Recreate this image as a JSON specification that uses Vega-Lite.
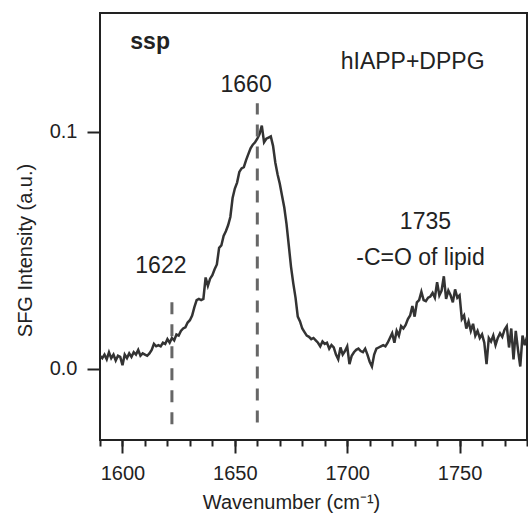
{
  "$schema": "https://vega.github.io/schema/vega-lite/v6.json",
  "autosize": {"type": "none"},
  "padding": {"left": 100, "top": 13, "right": 1, "bottom": 74},
  "width": 427,
  "height": 427,
  "background": "white",
  "config": {
    "view": {"stroke": "#222", "strokeWidth": 2},
    "axis": {
      "labelFont": "Liberation Sans", "labelFontSize": 20, "labelColor": "#222",
      "titleFont": "Liberation Sans", "titleFontSize": 20, "titleColor": "#222", "titleFontWeight": "normal",
      "tickColor": "#222", "tickWidth": 2, "domain": false, "grid": false
    },
    "text": {"font": "Liberation Sans"}
  },
  "datasets": {
    "spec": [
      {"wn":1590,"v":0.0055},{"wn":1591,"v":0.0045},{"wn":1592,"v":0.0060},{"wn":1593,"v":0.0040},{"wn":1594,"v":0.0070},
      {"wn":1595,"v":0.0045},{"wn":1596,"v":0.0060},{"wn":1597,"v":0.0035},{"wn":1598,"v":0.0055},{"wn":1599,"v":0.0050},
      {"wn":1600,"v":0.0015},{"wn":1601,"v":0.0060},{"wn":1602,"v":0.0045},{"wn":1603,"v":0.0065},{"wn":1604,"v":0.0050},
      {"wn":1605,"v":0.0070},{"wn":1606,"v":0.0060},{"wn":1607,"v":0.0080},{"wn":1608,"v":0.0055},{"wn":1609,"v":0.0065},
      {"wn":1610,"v":0.0060},{"wn":1611,"v":0.0055},{"wn":1612,"v":0.0065},{"wn":1613,"v":0.0080},{"wn":1614,"v":0.0105},
      {"wn":1615,"v":0.0095},{"wn":1616,"v":0.0100},{"wn":1617,"v":0.0095},{"wn":1618,"v":0.0110},{"wn":1619,"v":0.0105},
      {"wn":1620,"v":0.0125},{"wn":1621,"v":0.0110},{"wn":1622,"v":0.0130},{"wn":1623,"v":0.0120},{"wn":1624,"v":0.0145},
      {"wn":1625,"v":0.0140},{"wn":1626,"v":0.0160},{"wn":1627,"v":0.0170},{"wn":1628,"v":0.0175},{"wn":1629,"v":0.0195},
      {"wn":1630,"v":0.0205},{"wn":1631,"v":0.0225},{"wn":1632,"v":0.0260},{"wn":1633,"v":0.0290},{"wn":1634,"v":0.0295},
      {"wn":1635,"v":0.0290},{"wn":1636,"v":0.0295},{"wn":1637,"v":0.0385},{"wn":1638,"v":0.0350},{"wn":1639,"v":0.0380},
      {"wn":1640,"v":0.0395},{"wn":1641,"v":0.0420},{"wn":1642,"v":0.0440},{"wn":1643,"v":0.0510},{"wn":1644,"v":0.0520},
      {"wn":1645,"v":0.0560},{"wn":1646,"v":0.0580},{"wn":1647,"v":0.0605},{"wn":1648,"v":0.0640},{"wn":1649,"v":0.0720},
      {"wn":1650,"v":0.0760},{"wn":1651,"v":0.0785},{"wn":1652,"v":0.0830},{"wn":1653,"v":0.0845},{"wn":1654,"v":0.0850},
      {"wn":1655,"v":0.0880},{"wn":1656,"v":0.0905},{"wn":1657,"v":0.0930},{"wn":1658,"v":0.0945},{"wn":1659,"v":0.0955},
      {"wn":1660,"v":0.0970},{"wn":1661,"v":0.0990},{"wn":1662,"v":0.1025},{"wn":1663,"v":0.0955},{"wn":1664,"v":0.0970},
      {"wn":1665,"v":0.0975},{"wn":1666,"v":0.0980},{"wn":1667,"v":0.0940},{"wn":1668,"v":0.0870},{"wn":1669,"v":0.0820},
      {"wn":1670,"v":0.0780},{"wn":1671,"v":0.0730},{"wn":1672,"v":0.0680},{"wn":1673,"v":0.0610},{"wn":1674,"v":0.0520},
      {"wn":1675,"v":0.0430},{"wn":1676,"v":0.0360},{"wn":1677,"v":0.0300},{"wn":1678,"v":0.0220},{"wn":1679,"v":0.0200},
      {"wn":1680,"v":0.0170},{"wn":1681,"v":0.0155},{"wn":1682,"v":0.0140},{"wn":1683,"v":0.0135},{"wn":1684,"v":0.0125},
      {"wn":1685,"v":0.0130},{"wn":1686,"v":0.0120},{"wn":1687,"v":0.0110},{"wn":1688,"v":0.0095},{"wn":1689,"v":0.0115},
      {"wn":1690,"v":0.0105},{"wn":1691,"v":0.0110},{"wn":1692,"v":0.0085},{"wn":1693,"v":0.0100},{"wn":1694,"v":0.0090},
      {"wn":1695,"v":0.0060},{"wn":1696,"v":0.0040},{"wn":1697,"v":0.0090},{"wn":1698,"v":0.0060},{"wn":1699,"v":0.0075},
      {"wn":1700,"v":0.0095},{"wn":1701,"v":0.0020},{"wn":1702,"v":0.0055},{"wn":1703,"v":0.0070},{"wn":1704,"v":0.0080},
      {"wn":1705,"v":0.0085},{"wn":1706,"v":0.0075},{"wn":1707,"v":0.0070},{"wn":1708,"v":0.0085},{"wn":1709,"v":0.0060},
      {"wn":1710,"v":0.0030},{"wn":1711,"v":0.0010},{"wn":1712,"v":0.0060},{"wn":1713,"v":0.0085},{"wn":1714,"v":0.0090},
      {"wn":1715,"v":0.0095},{"wn":1716,"v":0.0100},{"wn":1717,"v":0.0095},{"wn":1718,"v":0.0110},{"wn":1719,"v":0.0130},
      {"wn":1720,"v":0.0150},{"wn":1721,"v":0.0110},{"wn":1722,"v":0.0160},{"wn":1723,"v":0.0140},{"wn":1724,"v":0.0180},
      {"wn":1725,"v":0.0170},{"wn":1726,"v":0.0185},{"wn":1727,"v":0.0210},{"wn":1728,"v":0.0225},{"wn":1729,"v":0.0265},
      {"wn":1730,"v":0.0220},{"wn":1731,"v":0.0280},{"wn":1732,"v":0.0290},{"wn":1733,"v":0.0325},{"wn":1734,"v":0.0290},
      {"wn":1735,"v":0.0285},{"wn":1736,"v":0.0300},{"wn":1737,"v":0.0305},{"wn":1738,"v":0.0320},{"wn":1739,"v":0.0300},
      {"wn":1740,"v":0.0365},{"wn":1741,"v":0.0310},{"wn":1742,"v":0.0330},{"wn":1743,"v":0.0390},{"wn":1744,"v":0.0295},
      {"wn":1745,"v":0.0330},{"wn":1746,"v":0.0310},{"wn":1747,"v":0.0280},{"wn":1748,"v":0.0335},{"wn":1749,"v":0.0300},
      {"wn":1750,"v":0.0310},{"wn":1751,"v":0.0210},{"wn":1752,"v":0.0225},{"wn":1753,"v":0.0170},{"wn":1754,"v":0.0200},
      {"wn":1755,"v":0.0160},{"wn":1756,"v":0.0190},{"wn":1757,"v":0.0140},{"wn":1758,"v":0.0160},{"wn":1759,"v":0.0130},
      {"wn":1760,"v":0.0145},{"wn":1761,"v":0.0110},{"wn":1762,"v":0.0020},{"wn":1763,"v":0.0130},{"wn":1764,"v":0.0115},
      {"wn":1765,"v":0.0140},{"wn":1766,"v":0.0100},{"wn":1767,"v":0.0130},{"wn":1768,"v":0.0150},{"wn":1769,"v":0.0135},
      {"wn":1770,"v":0.0165},{"wn":1771,"v":0.0180},{"wn":1772,"v":0.0090},{"wn":1773,"v":0.0170},{"wn":1774,"v":0.0040},
      {"wn":1775,"v":0.0160},{"wn":1776,"v":0.0080},{"wn":1777,"v":0.0010},{"wn":1778,"v":0.0140},{"wn":1779,"v":0.0100},
      {"wn":1780,"v":0.0135}
    ],
    "dashes": [
      {"wn": 1622, "y1": -0.0234, "y2": 0.0317},
      {"wn": 1660, "y1": -0.0226, "y2": 0.112}
    ],
    "labels": [
      {"wn": 1729.1, "v": 0.1264, "t": "hIAPP+DPPG"},
      {"wn": 1655.0, "v": 0.1166, "t": "1660"},
      {"wn": 1734.8, "v": 0.0589, "t": "1735"},
      {"wn": 1732.6, "v": 0.0436, "t": "-C=O of lipid"},
      {"wn": 1617.1, "v": 0.0404, "t": "1622"}
    ],
    "bold": [
      {"wn": 1612.3, "v": 0.1348, "t": "ssp"}
    ]
  },
  "resolve": {"axis": {"x": "independent", "y": "independent"}},
  "layer": [
    {
      "data": {"name": "spec"},
      "mark": {"type": "line", "color": "#333", "strokeWidth": 2.5, "clip": true},
      "encoding": {
        "x": {"field": "wn", "type": "quantitative",
              "scale": {"domain": [1590, 1780], "nice": false, "zero": false},
              "axis": {"orient": "bottom", "values": [1600, 1650, 1700, 1750], "format": "d", "tickSize": 13, "labelPadding": 10,
                       "title": "Wavenumber (cm⁻¹)", "titleX": 191, "titleY": 68, "titleBaseline": "alphabetic", "titleAlign": "center", "titleAnchor": null}},
        "y": {"field": "v", "type": "quantitative",
              "scale": {"domain": [-0.03, 0.15], "nice": false, "zero": false},
              "axis": {"orient": "left", "values": [0, 0.1], "format": ".1f", "tickSize": 13, "labelPadding": 10,
                       "title": "SFG Intensity (a.u.)", "titleX": -69, "titleY": 237, "titleBaseline": "alphabetic", "titleAlign": "center", "titleAnchor": null, "titleAngle": -90}}
      }
    },
    {
      "data": {"name": "dashes"},
      "mark": {"type": "rule", "color": "#666", "strokeWidth": 3, "strokeDash": [12, 10]},
      "encoding": {
        "x": {"field": "wn", "type": "quantitative",
              "axis": {"orient": "bottom", "values": [1590,1600,1610,1620,1630,1640,1650,1660,1670,1680,1690,1700,1710,1720,1730,1740,1750,1760,1770,1780],
                       "tickSize": 6, "labels": false, "title": null}},
        "y": {"field": "y1", "type": "quantitative", "axis": null},
        "y2": {"field": "y2"}
      }
    },
    {
      "data": {"name": "labels"},
      "mark": {"type": "text", "fontSize": 23, "color": "#222", "align": "center", "baseline": "alphabetic"},
      "encoding": {
        "x": {"field": "wn", "type": "quantitative", "axis": null},
        "y": {"field": "v", "type": "quantitative", "axis": null},
        "text": {"field": "t"}
      }
    },
    {
      "data": {"name": "bold"},
      "mark": {"type": "text", "fontSize": 23, "fontWeight": "bold", "color": "#222", "align": "center", "baseline": "alphabetic"},
      "encoding": {
        "x": {"field": "wn", "type": "quantitative", "axis": null},
        "y": {"field": "v", "type": "quantitative", "axis": null},
        "text": {"field": "t"}
      }
    }
  ]
}
